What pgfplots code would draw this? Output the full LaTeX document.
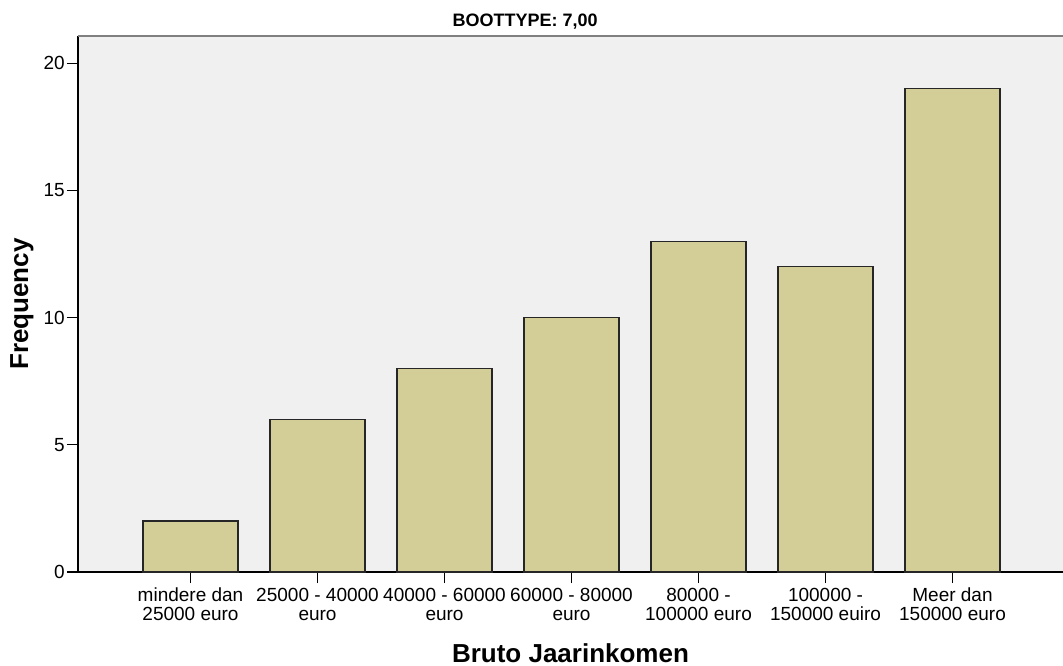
\documentclass[border=0pt]{standalone}
\usepackage{pgfplots}
\pgfplotsset{compat=1.18}
\usepackage{fontspec}
\setmainfont{Liberation Sans}
\definecolor{barfill}{RGB}{211,206,151}
\definecolor{plotbg}{RGB}{240,240,240}
\definecolor{topline}{RGB}{128,128,128}
\begin{document}
\begin{tikzpicture}[x=1pt,y=1pt]
\useasboundingbox (0,0) rectangle (1063,-666);
\begin{axis}[
    at={(78pt,-36pt)}, anchor=north west,
    scale only axis,
    width=985pt, height=536pt,
    xmin=-0.886, xmax=6.87,
    ymin=0, ymax=21.07,
    axis x line*=bottom, axis y line*=left,
    axis line style={black, line width=1.3pt, -},
    axis background/.style={fill=plotbg},
    tick align=outside,
    major tick length=11pt,
    tick style={black, line width=1.3pt},
    ytick={0,5,10,15,20},
    xtick={0,1,2,3,4,5,6},
    xticklabels={{mindere dan\\25000 euro},{25000 - 40000\\euro},{40000 - 60000\\euro},{60000 - 80000\\euro},{80000 -\\100000 euro},{100000 -\\150000 euiro},{Meer dan\\150000 euro}},
    /pgf/number format/assume math mode=true,
    x tick label style={align=center, font=\fontsize{19}{19}\selectfont, inner sep=1pt, yshift=-4pt},
    y tick label style={font=\fontsize{19}{19}\selectfont, inner sep=2pt},
    xlabel={Bruto Jaarinkomen},
    ylabel={Frequency},
    xlabel style={font=\bfseries\fontsize{26}{26}\selectfont, at={(axis description cs:0.5,-0.1511)}, anchor=center},
    ylabel style={font=\bfseries\fontsize{26}{26}\selectfont, at={(axis description cs:-0.0569,0.5)}, anchor=center},
    title={BOOTTYPE: 7,00},
    title style={font=\bfseries\fontsize{18}{18}\selectfont, at={(axis description cs:0.454,1.015)}, anchor=center},
    clip=false,
]
\addplot[ybar, bar width=95pt, fill=barfill, draw=black!85, line width=1.5pt]
    coordinates {(0,2) (1,6) (2,8) (3,10) (4,13) (5,12) (6,19)};
\draw[topline, line width=2pt] (rel axis cs:0,1) -- (rel axis cs:1,1);
\end{axis}
\end{tikzpicture}
\end{document}
